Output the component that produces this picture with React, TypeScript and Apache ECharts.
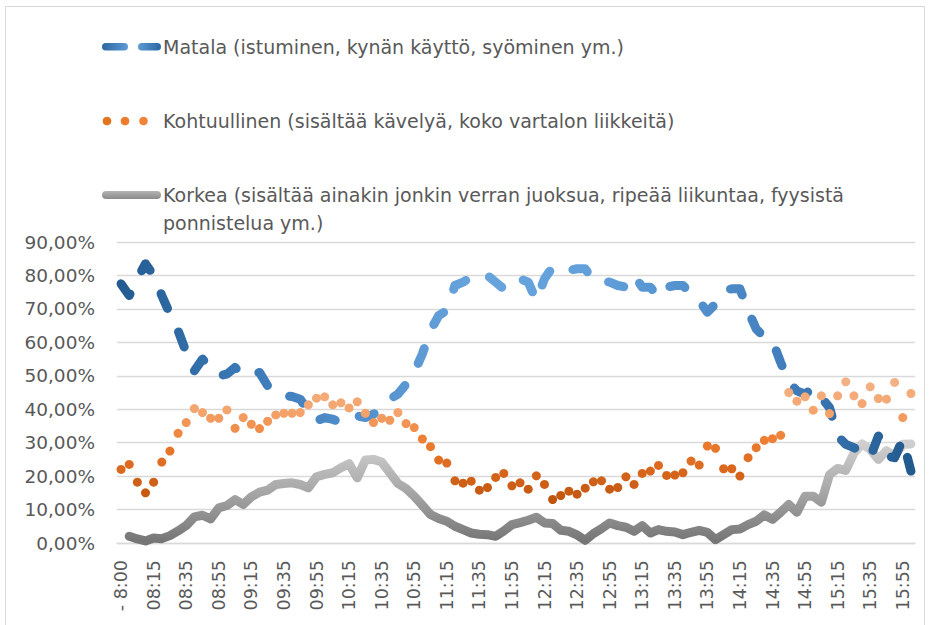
import React, { useEffect, useRef } from "react";
import * as echarts from "echarts";

const categories: string[] = [
  "- 8:00",
  "08:00", "08:05", "08:10", "08:15", "08:20", "08:25", "08:30", "08:35", "08:40", "08:45", "08:50", "08:55",
  "09:00", "09:05", "09:10", "09:15", "09:20", "09:25", "09:30", "09:35", "09:40", "09:45", "09:50", "09:55",
  "10:00", "10:05", "10:10", "10:15", "10:20", "10:25", "10:30", "10:35", "10:40", "10:45", "10:50", "10:55",
  "11:00", "11:05", "11:10", "11:15", "11:20", "11:25", "11:30", "11:35", "11:40", "11:45", "11:50", "11:55",
  "12:00", "12:05", "12:10", "12:15", "12:20", "12:25", "12:30", "12:35", "12:40", "12:45", "12:50", "12:55",
  "13:00", "13:05", "13:10", "13:15", "13:20", "13:25", "13:30", "13:35", "13:40", "13:45", "13:50", "13:55",
  "14:00", "14:05", "14:10", "14:15", "14:20", "14:25", "14:30", "14:35", "14:40", "14:45", "14:50", "14:55",
  "15:00", "15:05", "15:10", "15:15", "15:20", "15:25", "15:30", "15:35", "15:40", "15:45", "15:50", "15:55",
  "16:00",
];

const seriesNames: string[] = [
  "Matala (istuminen, kynän käyttö, syöminen ym.)",
  "Kohtuullinen (sisältää kävelyä, koko vartalon liikkeitä)",
  "Korkea (sisältää ainakin jonkin verran juoksua, ripeää liikuntaa, fyysistä ponnistelua ym.)",
];

const matala: number[] = [
  77.5, 74.0, 79.0, 83.5, 80.0, 74.0, 68.5, 63.5, 57.0, 51.5,
  55.0, 52.5, 50.0, 50.5, 52.5, 50.0, 50.5, 51.0, 47.0, 44.5,
  44.0, 43.8, 43.0, 39.5, 36.5, 37.5, 37.0, 36.0, 37.5, 38.0,
  37.5, 38.5, 40.5, 43.0, 44.5, 47.5, 51.0, 56.5, 63.5, 68.0,
  69.5, 77.0, 78.0, 79.5, 80.5, 80.0, 78.0, 76.0, 78.5, 79.0,
  78.0, 72.5, 79.0, 82.5, 82.5, 81.5, 82.0, 82.0, 78.5, 78.5,
  78.0, 77.0, 76.5, 80.0, 76.5, 76.5, 73.5, 76.5, 77.0, 77.0,
  74.5, 72.5, 69.0, 71.5, 75.5, 76.0, 76.0, 69.5, 64.0, 61.5,
  60.5, 54.0, 48.0, 45.5, 44.5, 46.5, 43.5, 40.5, 32.0, 29.5,
  28.5, 27.0, 25.5, 32.0, 26.0, 25.5, 31.0, 21.5,
];

const kohtuullinen: number[] = [
  22.0, 23.5, 18.2, 15.0, 18.2, 24.2, 27.5, 32.8, 36.0, 40.2,
  39.0, 37.3, 37.3, 39.8, 34.3, 37.5, 35.5, 34.2, 36.4, 38.3,
  38.8, 38.8, 39.0, 41.3, 43.3, 43.7, 41.3, 41.9, 40.4, 42.2,
  38.8, 36.0, 37.3, 36.7, 39.0, 35.7, 34.5, 31.1, 28.8, 24.8,
  23.9, 18.6, 17.9, 18.5, 15.8, 16.6, 19.6, 20.8, 17.1, 18.0,
  16.1, 20.1, 17.5, 13.0, 14.2, 15.5, 14.6, 16.4, 18.3, 18.6,
  16.1, 16.6, 19.8, 17.5, 20.8, 21.5, 23.2, 20.2, 20.3, 21.0,
  24.5, 23.3, 29.0, 28.3, 22.2, 22.2, 20.0, 25.5, 28.5, 30.7,
  31.2, 32.2, 45.0, 42.4, 43.7, 39.7, 44.0, 38.7, 44.0, 48.2,
  44.0, 41.7, 46.7, 43.2, 43.0, 48.0, 37.5, 44.7,
];

const korkea: (number | null)[] = [
  null, 2.0, 1.2, 0.6, 1.5, 1.3, 2.2, 3.6, 5.2, 7.8,
  8.3, 7.2, 10.5, 11.2, 13.0, 11.5, 13.8, 15.2, 15.8, 17.5,
  17.8, 18.0, 17.5, 16.5, 19.8, 20.5, 21.0, 22.5, 23.7, 19.5,
  24.8, 25.0, 24.2, 21.0, 17.8, 16.3, 14.0, 11.3, 8.5, 7.3,
  6.5, 5.0, 4.0, 3.0, 2.6, 2.5, 2.0, 3.6, 5.5, 6.1,
  6.8, 7.7, 6.0, 5.8, 3.8, 3.5, 2.4, 0.8, 2.8, 4.3,
  6.0, 5.2, 4.7, 3.5, 5.2, 3.0, 4.0, 3.5, 3.3, 2.5,
  3.2, 3.8, 3.2, 1.0, 2.5, 4.0, 4.2, 5.5, 6.5, 8.4,
  7.1, 9.2, 11.5, 9.2, 14.0, 14.0, 12.2, 20.4, 22.3, 21.7,
  26.9, 29.6, 28.0, 25.0, 27.6, 26.0, 29.5, 29.6,
];

const FONT = "DejaVu Sans";
const TEXT = "#595959";

export default function App() {
  const ref = useRef<HTMLDivElement>(null);

  useEffect(() => {
    if (!ref.current) return;
    const chart = echarts.init(ref.current, null, { renderer: "svg" });
    const LG = echarts.graphic.LinearGradient;

    const blueGrad = new LG(0, 0, 1, 0, [
      { offset: 0, color: "#245c91" },
      { offset: 0.15, color: "#3a78b6" },
      { offset: 0.3, color: "#5190cc" },
      { offset: 0.45, color: "#68a4dc" },
      { offset: 0.6, color: "#62a0da" },
      { offset: 0.75, color: "#4f8dca" },
      { offset: 0.86, color: "#3d7ab7" },
      { offset: 1, color: "#225a8e" },
    ]);
    const grayGrad = new LG(0, 1, 0, 0, [
      { offset: 0, color: "#767676" },
      { offset: 0.5, color: "#a6a6a6" },
      { offset: 1, color: "#cfcfcf" },
    ]);

    const legendText = (x: number, y: number, text: string) => ({
      type: "text",
      x,
      y,
      style: {
        text,
        fill: TEXT,
        font: `19px "${FONT}"`,
        textVerticalAlign: "middle",
        verticalAlign: "middle",
        align: "left",
      },
      silent: true,
    });

    const option: any = {
      animation: false,
      backgroundColor: "#ffffff",
      grid: { left: 117, right: 16, top: 242, bottom: 82, containLabel: false },
      xAxis: {
        type: "category",
        data: categories,
        boundaryGap: true,
        axisLine: { show: true, lineStyle: { color: "#d9d9d9", width: 1.3 } },
        axisTick: { show: false },
        axisLabel: {
          interval: 3,
          rotate: 90,
          margin: 17,
          color: TEXT,
          fontFamily: FONT,
          fontSize: 17.5,
        },
        splitLine: { show: false },
      },
      yAxis: {
        type: "value",
        min: 0,
        max: 90,
        interval: 10,
        axisLine: { show: false },
        axisTick: { show: false },
        axisLabel: {
          margin: 22,
          color: TEXT,
          fontFamily: FONT,
          fontSize: 18.5,
          formatter: (v: number) => v.toFixed(2).replace(".", ",") + "%",
        },
        splitLine: { lineStyle: { color: "#d9d9d9", width: 1.3 } },
      },
      visualMap: [
        {
          type: "continuous",
          show: false,
          seriesIndex: 2,
          dimension: 1,
          min: 13,
          max: 48,
          inRange: { color: ["#c0560e", "#d9671d", "#ed7d31", "#f3a46d", "#f4b183"] },
        },
      ],
      series: [
        {
          name: seriesNames[2],
          type: "line",
          data: korkea,
          symbol: "none",
          connectNulls: false,
          lineStyle: { width: 9, cap: "round", join: "round", color: grayGrad },
          z: 2,
        },
        {
          name: seriesNames[0],
          type: "line",
          data: matala,
          symbol: "none",
          lineStyle: {
            width: 9,
            type: [16, 26],
            cap: "round",
            join: "round",
            color: blueGrad,
          },
          z: 3,
        },
        {
          name: seriesNames[1],
          type: "line",
          data: kohtuullinen,
          symbol: "circle",
          symbolSize: 9,
          showSymbol: true,
          showAllSymbol: true,
          lineStyle: { width: 0, opacity: 0 },
          itemStyle: { color: "#ed7d31" },
          z: 4,
        },
      ],
      graphic: [
        {
          type: "rect",
          shape: { x: 5.5, y: 6.5, width: 919, height: 640 },
          style: { fill: "none", stroke: "#d9d9d9", lineWidth: 1 },
          silent: true,
          z: -10,
        },
        // legend: Matala
        {
          type: "rect",
          shape: { x: 102, y: 43, width: 26, height: 7.5, r: 3.75 },
          style: {
            fill: new LG(0, 0, 1, 0, [
              { offset: 0, color: "#2b66a1" },
              { offset: 1, color: "#5d9bd4" },
            ]),
          },
          silent: true,
        },
        {
          type: "rect",
          shape: { x: 138, y: 43, width: 23, height: 7.5, r: 3.75 },
          style: {
            fill: new LG(0, 0, 1, 0, [
              { offset: 0, color: "#5d9bd4" },
              { offset: 1, color: "#2b66a1" },
            ]),
          },
          silent: true,
        },
        legendText(163, 46.5, seriesNames[0]),
        // legend: Kohtuullinen
        { type: "circle", shape: { cx: 107, cy: 121, r: 4.3 }, style: { fill: "#e2731f" }, silent: true },
        { type: "circle", shape: { cx: 125, cy: 121, r: 4.3 }, style: { fill: "#ec7c2e" }, silent: true },
        { type: "circle", shape: { cx: 143.5, cy: 121, r: 4.3 }, style: { fill: "#ef8538" }, silent: true },
        legendText(163, 120.5, seriesNames[1]),
        // legend: Korkea
        {
          type: "rect",
          shape: { x: 102, y: 191, width: 59, height: 8, r: 4 },
          style: {
            fill: new LG(0, 0, 0, 1, [
              { offset: 0, color: "#b4b4b4" },
              { offset: 1, color: "#8a8a8a" },
            ]),
          },
          silent: true,
        },
        legendText(163, 195, "Korkea (sisältää ainakin jonkin verran juoksua, ripeää liikuntaa, fyysistä"),
        legendText(163, 222.5, "ponnistelua ym.)"),
      ],
    };

    chart.setOption(option);
    return () => chart.dispose();
  }, []);

  return (
    <div
      ref={ref}
      style={{ position: "fixed", left: 0, top: 0, width: 931, height: 625, background: "#fff" }}
    />
  );
}
